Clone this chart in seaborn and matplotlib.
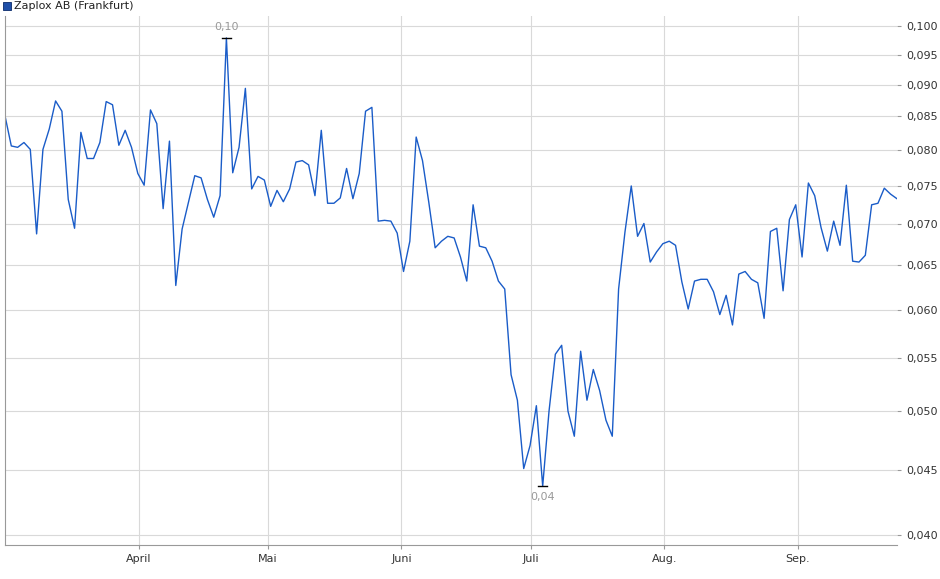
import numpy as np
import pandas as pd
import matplotlib
matplotlib.use('Agg')
import matplotlib.pyplot as plt
import matplotlib.dates as mdates
from matplotlib.ticker import FixedLocator, FuncFormatter, NullLocator
import seaborn as sns

title = "Zaplox AB (Frankfurt)"
start_date = "2023-03-01"
end_date = "2023-09-24"
prices = [
    0.0851, 0.0806, 0.0804, 0.0811, 0.0801, 0.0688, 0.0801, 0.0831, 0.0874, 0.0858,
    0.0732, 0.0695, 0.0826, 0.0788, 0.0788, 0.0811, 0.0873, 0.0868, 0.0807, 0.0829,
    0.0804, 0.0767, 0.0751, 0.0860, 0.0839, 0.0720, 0.0813, 0.0627, 0.0694, 0.0728,
    0.0764, 0.0761, 0.0732, 0.0709, 0.0737, 0.0979, 0.0768, 0.0804, 0.0894, 0.0746,
    0.0763, 0.0758, 0.0723, 0.0744, 0.0729, 0.0746, 0.0783, 0.0785, 0.0779, 0.0737,
    0.0829, 0.0727, 0.0727, 0.0734, 0.0774, 0.0733, 0.0767, 0.0858, 0.0864, 0.0704,
    0.0705, 0.0704, 0.0689, 0.0643, 0.0679, 0.0819, 0.0785, 0.0728, 0.0671, 0.0679,
    0.0685, 0.0683, 0.0660, 0.0632, 0.0725, 0.0673, 0.0671, 0.0655, 0.0632, 0.0623,
    0.0534, 0.0510, 0.0451, 0.0470, 0.0505, 0.0437, 0.0500, 0.0554, 0.0563, 0.0500,
    0.0478, 0.0557, 0.0510, 0.0539, 0.0519, 0.0492, 0.0478, 0.0623, 0.0690, 0.0750,
    0.0685, 0.0701, 0.0654, 0.0666, 0.0676, 0.0679, 0.0674, 0.0631, 0.0601, 0.0632,
    0.0634, 0.0634, 0.0620, 0.0595, 0.0616, 0.0584, 0.0640, 0.0643, 0.0634, 0.0630,
    0.0591, 0.0691, 0.0695, 0.0621, 0.0706, 0.0725, 0.0660, 0.0754, 0.0737, 0.0696,
    0.0667, 0.0704, 0.0674, 0.0751, 0.0655, 0.0654, 0.0662, 0.0725, 0.0727, 0.0747,
    0.0739, 0.0733,
]
y_ticks = [0.040, 0.045, 0.050, 0.055, 0.060, 0.065, 0.070, 0.075, 0.080, 0.085,
           0.090, 0.095, 0.100]
month_starts = ["2023-04-01", "2023-05-01", "2023-06-01", "2023-07-01", "2023-08-01", "2023-09-01"]
month_labels = ["April", "Mai", "Juni", "Juli", "Aug.", "Sep."]

df = pd.DataFrame({
    "date": pd.date_range(start_date, end_date, periods=len(prices)),
    "price": prices,
})

line_color = "#1a5cc8"
grid_color = "#d9d9d9"

fig = plt.figure(figsize=(9.4, 5.79), dpi=100)
ax = fig.add_axes([0.0053, 0.0587, 0.9489, 0.9133])
sns.lineplot(data=df, x="date", y="price", ax=ax, color=line_color, linewidth=1.0)

ax.set_yscale("log")
ax.set_ylim(0.0393, 0.1018)
ax.set_xlim(df["date"].iloc[0], df["date"].iloc[-1])
ax.yaxis.set_major_locator(FixedLocator(y_ticks))
ax.yaxis.set_minor_locator(NullLocator())
ax.yaxis.set_major_formatter(FuncFormatter(lambda v, p: f"{v:.3f}".replace(".", ",")))
ax.yaxis.tick_right()
ax.set_xticks(pd.to_datetime(month_starts))
ax.set_xticklabels(month_labels)
ax.tick_params(axis="both", labelsize=8, colors="#333333", length=3)
ax.tick_params(axis="both", color="#999999")
ax.grid(True, color=grid_color, linewidth=0.8)
ax.set_axisbelow(True)
ax.set_xlabel("")
ax.set_ylabel("")
for s in ["top", "right"]:
    ax.spines[s].set_visible(False)
ax.spines["left"].set_color("#999999")
ax.spines["bottom"].set_color("#999999")

# max / min markers
imax = int(np.argmax(prices))
imin = int(np.argmin(prices))
for i, off, va, txt in [(imax, 4, "bottom", "0,10"), (imin, -4, "top", "0,04")]:
    d = df["date"].iloc[i]
    v = prices[i]
    ax.plot([d - pd.Timedelta(days=1), d + pd.Timedelta(days=1)], [v, v], color="black", linewidth=1)
    ax.annotate(txt, (d, v), xytext=(0, off), textcoords="offset points",
                ha="center", va=va, fontsize=8, color="#999999")

# legend box
fig.patches.append(plt.Rectangle((3 / 940, 1 - 10 / 579), 8 / 940, 8 / 579,
                                 transform=fig.transFigure, facecolor="#1f4fa8",
                                 edgecolor="#0a2a6a", linewidth=0.6))
fig.text(14 / 940, 1 - 6 / 579, title, fontsize=8, va="center", ha="left", color="#222222")

fig.savefig("out.png", dpi=100)
